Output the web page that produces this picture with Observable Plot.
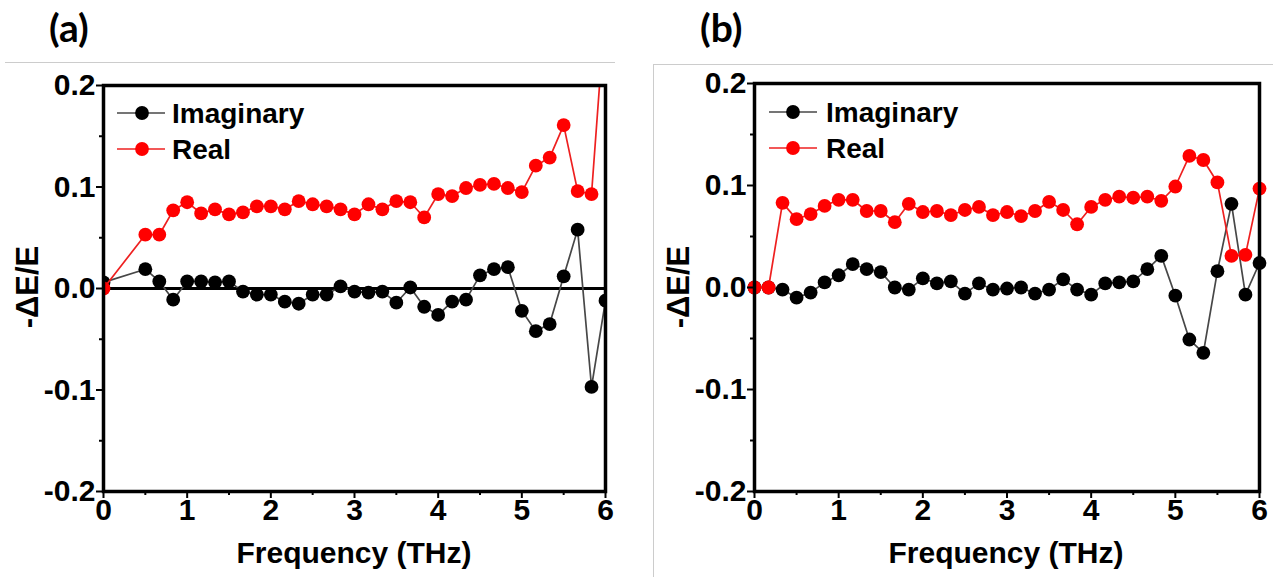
<!DOCTYPE html>
<html><head><meta charset="utf-8">
<script src="https://cdn.jsdelivr.net/npm/d3@7"></script>
<script src="https://cdn.jsdelivr.net/npm/@observablehq/plot@0.6"></script>
<style>
body{margin:0;background:#fff;}
#root{position:relative;width:1273px;height:577px;overflow:hidden;background:#fff;font-family:"Liberation Sans",Arial,sans-serif;font-weight:bold;color:#000;}
.abs{position:absolute;}
</style></head><body><div id="root"></div>
<script>
// ---- data ----
const freqA = [0, 0.5, 0.667, 0.833, 1, 1.167, 1.333, 1.5, 1.667, 1.833, 2, 2.167, 2.333, 2.5, 2.667, 2.833, 3, 3.167, 3.333, 3.5, 3.667, 3.833, 4, 4.167, 4.333, 4.5, 4.667, 4.833, 5, 5.167, 5.333, 5.5, 5.667, 5.833, 6];
const realA = [0, 0.053, 0.053, 0.077, 0.085, 0.074, 0.078, 0.073, 0.075, 0.081, 0.081, 0.078, 0.086, 0.083, 0.081, 0.078, 0.073, 0.083, 0.078, 0.086, 0.085, 0.070, 0.093, 0.091, 0.099, 0.102, 0.103, 0.099, 0.095, 0.121, 0.129, 0.161, 0.096, 0.093, 0.28];
const imagA = [0.006, 0.019, 0.007, -0.011, 0.007, 0.007, 0.006, 0.007, -0.003, -0.006, -0.006, -0.013, -0.015, -0.006, -0.006, 0.002, -0.003, -0.004, -0.003, -0.014, 0.001, -0.018, -0.026, -0.013, -0.011, 0.013, 0.019, 0.021, -0.022, -0.042, -0.035, 0.012, 0.058, -0.097, -0.012];

const freqB = [0, 0.167, 0.333, 0.5, 0.667, 0.833, 1, 1.167, 1.333, 1.5, 1.667, 1.833, 2, 2.167, 2.333, 2.5, 2.667, 2.833, 3, 3.167, 3.333, 3.5, 3.667, 3.833, 4, 4.167, 4.333, 4.5, 4.667, 4.833, 5, 5.167, 5.333, 5.5, 5.667, 5.833, 6];
const realB = [0, 0, 0.083, 0.067, 0.072, 0.080, 0.086, 0.086, 0.075, 0.075, 0.064, 0.082, 0.074, 0.075, 0.071, 0.076, 0.079, 0.071, 0.074, 0.070, 0.075, 0.084, 0.076, 0.062, 0.079, 0.086, 0.089, 0.088, 0.089, 0.085, 0.099, 0.129, 0.125, 0.103, 0.031, 0.032, 0.097];
const imagB = [0, 0, -0.002, -0.010, -0.005, 0.005, 0.012, 0.023, 0.018, 0.015, 0.0, -0.002, 0.009, 0.004, 0.006, -0.006, 0.004, -0.002, -0.001, 0.0, -0.006, -0.002, 0.008, -0.002, -0.007, 0.004, 0.005, 0.006, 0.018, 0.031, -0.008, -0.051, -0.064, 0.016, 0.082, -0.007, 0.024];

const xTicks = [0, 1, 2, 3, 4, 5, 6];
const xMinorTicks = [0.5, 1.5, 2.5, 3.5, 4.5, 5.5];
const yTicks = [-0.2, -0.1, 0, 0.1, 0.2];
const yMinorTicks = [-0.15, -0.05, 0.05, 0.15];
const seriesNames = ["Imaginary", "Real"];
const dotColors = ["#000000", "#ff0000"];
const lineColors = ["#474747", "#ee2020"];
const panelLabels = ["(a)", "(b)"];
const xLabel = "Frequency (THz)";
const yLabel = "-ΔE/E";

const root = document.getElementById("root");

function panel({freq, real, imag, left, width, mL, mR, mT, mB, clip, zeroLine}) {
  const imagRows = freq.map((f, i) => ({f, v: imag[i]}));
  const realRows = freq.map((f, i) => ({f, v: real[i]}));
  const marks = [];
  if (zeroLine) marks.push(Plot.ruleY([0], {stroke: "#000", strokeWidth: 3}));
  marks.push(
    Plot.line(imagRows, {x: "f", y: "v", stroke: lineColors[0], strokeWidth: 1.7, clip}),
    Plot.dot(imagRows, {x: "f", y: "v", r: 6.9, fill: dotColors[0], clip}),
    Plot.line(realRows, {x: "f", y: "v", stroke: lineColors[1], strokeWidth: 1.7, clip}),
    Plot.dot(realRows, {x: "f", y: "v", r: 6.9, fill: dotColors[1], clip}),
    Plot.axisY(yTicks, {tickSize: 7, tickPadding: 1, strokeWidth: 2, tickFormat: d => d.toFixed(1), fontSize: 30, fontWeight: "bold", label: null}),
    Plot.axisY(yMinorTicks, {tickSize: 4, strokeWidth: 2, tickFormat: () => "", label: null}),
    Plot.axisX(xTicks, {tickSize: 7, tickPadding: 0, strokeWidth: 2, tickFormat: d => String(d), fontSize: 30, fontWeight: "bold", label: null}),
    Plot.axisX(xMinorTicks, {tickSize: 4, strokeWidth: 2, tickFormat: () => "", label: null}),
    Plot.frame({stroke: "#000", strokeWidth: 3.5})
  );
  const svg = Plot.plot({
    width, height: 577,
    marginLeft: mL, marginRight: mR, marginTop: mT, marginBottom: mB,
    x: {domain: [0, 6]},
    y: {domain: [-0.2, 0.2]},
    style: {fontFamily: '"Liberation Sans", Arial, sans-serif', fontWeight: "bold", fontSize: "30px", color: "#000", background: "transparent"},
    marks
  });
  svg.style.position = "absolute";
  svg.style.left = left + "px";
  svg.style.top = "0px";
  root.appendChild(svg);
}

function div(css, text) {
  const d = document.createElement("div");
  d.className = "abs";
  Object.assign(d.style, css);
  if (text != null) d.textContent = text;
  root.appendChild(d);
  return d;
}

// decorative separators
div({left: "5px", top: "62px", width: "610px", height: "0px", borderTop: "1px solid #cccccc"});
div({left: "653px", top: "64px", width: "640px", height: "600px", borderTop: "1px solid #cccccc", borderLeft: "1px solid #cccccc"});

panel({freq: freqA, real: realA, imag: imagA, left: 0, width: 640, mL: 103, mR: 35, mT: 85, mB: 86, clip: true, zeroLine: true});
panel({freq: freqB, real: realB, imag: imagB, left: 640, width: 633, mL: 114, mR: 14, mT: 83, mB: 86, clip: false, zeroLine: false});

// panel titles
div({left: "49px", top: "8px", fontFamily: "Lato, sans-serif", fontSize: "39px", lineHeight: "1", fontWeight: "bold"}, panelLabels[0]);
div({left: "700px", top: "8px", fontFamily: "Lato, sans-serif", fontSize: "39px", lineHeight: "1", fontWeight: "bold"}, panelLabels[1]);

// axis titles
const yl = [[27, 287], [678, 287]];
yl.forEach(([x, y]) => div({left: x + "px", top: y + "px", fontSize: "31px", lineHeight: "1", whiteSpace: "nowrap", transform: "translate(-50%,-50%) rotate(-90deg)"}, yLabel));
const xl = [[354, 553], [1006, 553]];
xl.forEach(([x, y]) => div({left: x + "px", top: y + "px", fontSize: "30px", lineHeight: "1", whiteSpace: "nowrap", transform: "translate(-50%,-50%)"}, xLabel));

// legends
const NS = "http://www.w3.org/2000/svg";
const ov = document.createElementNS(NS, "svg");
ov.setAttribute("width", 1273); ov.setAttribute("height", 577);
ov.style.position = "absolute"; ov.style.left = "0"; ov.style.top = "0";
root.appendChild(ov);
const legendPos = [{x0: 117, x1: 165, cx: 142, tx: 172, y: [113, 149]}, {x0: 769, x1: 817, cx: 793, tx: 826, y: [112, 148]}];
legendPos.forEach(p => {
  seriesNames.forEach((name, i) => {
    const y = p.y[i];
    const l = document.createElementNS(NS, "line");
    l.setAttribute("x1", p.x0); l.setAttribute("x2", p.x1); l.setAttribute("y1", y); l.setAttribute("y2", y);
    l.setAttribute("stroke", lineColors[i]); l.setAttribute("stroke-width", 1.7);
    ov.appendChild(l);
    const c = document.createElementNS(NS, "circle");
    c.setAttribute("cx", p.cx); c.setAttribute("cy", y); c.setAttribute("r", 6.9); c.setAttribute("fill", dotColors[i]);
    ov.appendChild(c);
    const t = document.createElementNS(NS, "text");
    t.setAttribute("x", p.tx); t.setAttribute("y", y); t.setAttribute("dy", "0.36em");
    t.setAttribute("font-family", '"Liberation Sans", Arial, sans-serif'); t.setAttribute("font-weight", "bold"); t.setAttribute("font-size", 28);
    t.textContent = name;
    ov.appendChild(t);
  });
});
</script></body></html>
